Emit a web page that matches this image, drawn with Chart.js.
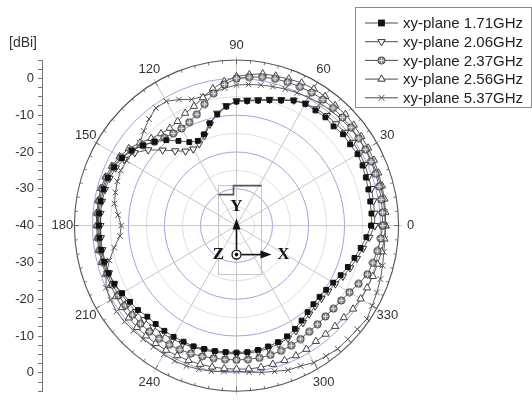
<!DOCTYPE html>
<html>
<head>
<meta charset="utf-8">
<script src="https://cdn.jsdelivr.net/npm/chart.js@4.4.1/dist/chart.umd.min.js"></script>
<style>
  html, body { margin: 0; padding: 0; background: #fff; }
  #wrap { position: relative; width: 532px; height: 403px; }
</style>
</head>
<body>
<div id="wrap"><canvas id="polar"></canvas></div>
<script>
// xy-plane patterns, gain in dBi every 5 degrees (0 = +x, counter-clockwise)
const ANGLES = [0, 5, 10, 15, 20, 25, 30, 35, 40, 45, 50, 55, 60, 65, 70, 75, 80, 85,
  90, 95, 100, 105, 110, 115, 120, 125, 130, 135, 140, 145, 150, 155, 160, 165, 170, 175,
  180, 185, 190, 195, 200, 205, 210, 215, 220, 225, 230, 235, 240, 245, 250, 255, 260, 265,
  270, 275, 280, 285, 290, 295, 300, 305, 310, 315, 320, 325, 330, 335, 340, 345, 350, 355];

const G_171 = [-2.6, -2.4, -2.3, -2.1, -1.8, -1.4, -1.2, -1.5, -1.4, -1.9, -1.6, -1.8, -1.8, -2.5, -3.8, -4.7, -5.5, -6.0,
  -6.3, -7.5, -9.3, -11.2, -13.6, -14.6, -13.8, -11.9, -9.7, -7.8, -6.1, -4.5, -3.3, -2.5, -2.0, -1.8, -1.7, -1.7,
  -1.8, -1.8, -1.9, -2.0, -2.2, -2.6, -3.3, -3.9, -4.3, -5.0, -5.1, -5.1, -5.1, -5.2, -5.1, -5.3, -5.4, -5.5,
  -5.5, -5.5, -5.7, -6.0, -6.3, -6.8, -7.6, -8.5, -9.3, -9.8, -9.9, -9.6, -9.0, -8.1, -7.1, -6.1, -5.0, -3.8];
const G_206 = [-1.6, -1.5, -1.4, -1.2, -1.0, -0.7, -0.5, -0.6, -0.6, -0.9, -1.0, -1.3, -1.6, -2.4, -3.6, -4.5, -5.3, -5.8,
  -6.1, -7.3, -9.0, -11.5, -14.0, -15.5, -16.0, -15.3, -13.5, -11.0, -8.0, -5.5, -4.0, -3.0, -2.5, -2.2, -2.1, -2.1,
  -2.2, -2.2, -2.2, -2.2, -2.3, -2.5, -3.0, -3.3, -3.6, -3.8, -4.0, -4.2, -4.4, -4.6, -4.8, -5.0, -5.1, -5.2,
  -5.2, -5.2, -5.3, -5.5, -5.8, -6.2, -7.0, -7.8, -8.6, -9.1, -9.2, -8.9, -8.3, -7.4, -6.4, -5.4, -4.3, -3.0];
const G_237 = [0.6, 0.7, 0.8, 1.0, 1.1, 1.2, 1.3, 1.4, 1.5, 1.6, 1.7, 1.8, 1.8, 1.6, 1.5, 1.3, 1.0, 0.5,
  0.0, -1.5, -3.5, -5.8, -7.8, -9.0, -9.5, -9.4, -8.8, -7.8, -6.0, -4.3, -3.0, -2.2, -1.7, -1.4, -1.3, -1.4,
  -1.5, -1.5, -1.5, -1.6, -1.8, -2.0, -2.2, -2.3, -2.3, -2.3, -2.4, -2.5, -2.6, -2.8, -3.0, -3.2, -3.4, -3.5,
  -3.5, -3.5, -3.5, -3.6, -3.8, -4.0, -4.4, -4.8, -5.0, -5.1, -4.9, -4.5, -3.8, -2.6, -1.3, -0.8, -0.3, 0.2];
const G_256 = [1.4, 1.5, 1.7, 1.8, 1.9, 2.1, 2.2, 2.3, 2.5, 2.8, 2.6, 2.9, 2.9, 2.8, 2.4, 2.1, 1.9, 1.2,
  0.5, -0.7, -2.2, -4.0, -5.5, -6.3, -7.3, -7.7, -7.4, -6.5, -5.0, -3.5, -2.5, -1.8, -1.3, -1.0, -1.0, -1.1,
  -1.2, -1.2, -1.2, -1.3, -1.4, -1.5, -1.4, -1.2, -1.0, -0.9, -0.9, -0.9, -0.9, -1.0, -1.0, -1.0, -1.0, -1.0,
  -1.0, -0.9, -0.9, -1.0, -1.0, -1.0, -1.2, -1.6, -1.5, -1.3, -1.1, -0.5, -0.2, 0.0, 0.3, 0.5, 0.9, 1.2];
const G_537 = [1.3, 1.3, 1.4, 1.5, 1.5, 1.5, 1.5, 1.3, 1.2, 1.0, 0.8, 0.5, 0.2, -0.2, -0.5, -0.9, -1.2, -1.5,
  -1.8, -2.5, -3.3, -3.7, -3.5, -2.2, -1.0, -1.0, -2.2, -3.6, -5.0, -5.0, -4.8, -4.5, -4.8, -5.2, -5.6, -7.0,
  -8.0, -7.5, -5.5, -3.5, -1.5, 0.0, 0.4, 0.7, 0.6, 0.4, 0.3, 0.2, 0.4, 0.6, 0.6, 0.4, 0.2, -0.2,
  -0.5, 0.0, 0.5, 1.0, 1.8, 2.1, 3.0, 3.3, 3.7, 3.7, 3.8, 4.2, 3.5, 3.0, 2.5, 2.0, 1.5, 1.4];

const SERIES_NAMES = ['xy-plane 1.71GHz', 'xy-plane 2.06GHz', 'xy-plane 2.37GHz', 'xy-plane 2.56GHz', 'xy-plane 5.37GHz'];
// 270 sits below the picture edge in the original, so it is left out
const ANGLE_LABELS = ['0', '30', '60', '90', '120', '150', '180', '210', '240', '300', '330'];
const R_MIN = -40;   // dBi at the centre
const R_MAX = 5;     // dBi at the outer ring

const FONT = '"Liberation Sans", Arial, sans-serif';

// polar (deg, dBi) -> plane, radius counted from the centre value
function toXY(values) {
  const pts = ANGLES.map((a, i) => {
    const r = values[i] - R_MIN, t = a * Math.PI / 180;
    return { x: r * Math.cos(t), y: r * Math.sin(t) };
  });
  pts.push({ ...pts[0] }); // close the loop
  return pts;
}

// circle with cross marker (2.37GHz)
function circlePlus() {
  const c = document.createElement('canvas');
  c.width = c.height = 9;
  const g = c.getContext('2d');
  g.beginPath(); g.arc(4.5, 4.5, 3.6, 0, 2 * Math.PI);
  g.fillStyle = '#929292'; g.fill();
  g.strokeStyle = '#3c3c3c'; g.lineWidth = 1; g.stroke();
  g.beginPath(); g.moveTo(4.5, 1.8); g.lineTo(4.5, 7.2); g.moveTo(1.8, 4.5); g.lineTo(7.2, 4.5);
  g.strokeStyle = '#dcdcdc'; g.stroke();
  return c;
}
const CIRC_PLUS = circlePlus();

const LINE = '#4a4a4a';
const base = { showLine: true, borderColor: LINE, borderWidth: 0.9, pointBorderWidth: 1, tension: 0 };
const datasets = [
  { ...base, label: SERIES_NAMES[0], data: toXY(G_171), pointStyle: 'rect', pointRadius: 3.4,
    pointBackgroundColor: '#111', pointBorderColor: '#111' },
  { ...base, label: SERIES_NAMES[1], data: toXY(G_206), pointStyle: 'triangle', rotation: 180, pointRadius: 4.2,
    pointBackgroundColor: '#fff', pointBorderColor: '#333' },
  { ...base, label: SERIES_NAMES[2], data: toXY(G_237), pointStyle: CIRC_PLUS, pointRadius: 4,
    pointBackgroundColor: '#999', pointBorderColor: '#333' },
  { ...base, label: SERIES_NAMES[3], data: toXY(G_256), pointStyle: 'triangle', pointRadius: 4.2,
    pointBackgroundColor: '#fff', pointBorderColor: '#444' },
  { ...base, label: SERIES_NAMES[4], data: toXY(G_537), pointStyle: 'crossRot', pointRadius: 4,
    pointBackgroundColor: '#666', pointBorderColor: '#555' },
];

// ── polar grid, antenna sketch ─────────────────────────
const polarGrid = {
  id: 'polarGrid',
  beforeDatasetsDraw(chart) {
    const { ctx, scales: { x, y } } = chart;
    const cx = x.getPixelForValue(0), cy = y.getPixelForValue(0);
    const rx = v => x.getPixelForValue(v) - cx, ry = v => cy - y.getPixelForValue(v);
    const outer = R_MAX - R_MIN;
    ctx.save();
    // rings
    for (let v = 5; v < outer; v += 5) {
      ctx.beginPath();
      ctx.ellipse(cx, cy, rx(v), ry(v), 0, 0, 2 * Math.PI);
      ctx.strokeStyle = v % 10 === 0 ? '#a3a3dc' : '#dedede';
      ctx.lineWidth = 1;
      ctx.stroke();
    }
    // spokes
    ctx.strokeStyle = '#c6c6c6';
    for (let a = 0; a < 360; a += 30) {
      const t = a * Math.PI / 180;
      ctx.beginPath();
      ctx.moveTo(cx, cy);
      ctx.lineTo(cx + rx(outer + 1) * Math.cos(t), cy - ry(outer + 1) * Math.sin(t));
      ctx.stroke();
    }
    // outer ring + ticks
    ctx.beginPath();
    ctx.ellipse(cx, cy, rx(outer), ry(outer), 0, 0, 2 * Math.PI);
    ctx.strokeStyle = '#555'; ctx.lineWidth = 1.1; ctx.stroke();
    ctx.lineWidth = 0.8;
    for (let a = 0; a < 360; a += 5) {
      const t = a * Math.PI / 180, c = Math.cos(t), s = Math.sin(t);
      const r0 = outer - (a % 30 === 0 ? 1.2 : 0.8);
      ctx.beginPath();
      ctx.moveTo(cx + rx(r0) * c, cy - ry(r0) * s);
      ctx.lineTo(cx + rx(outer) * c, cy - ry(outer) * s);
      ctx.stroke();
    }

    // antenna sketch and coordinate axes in the middle
    ctx.strokeStyle = '#c4c4c4'; ctx.lineWidth = 1;
    ctx.strokeRect(cx - 18, cy - 40, 43, 89);
    ctx.strokeStyle = '#555'; ctx.lineWidth = 1.6;
    ctx.beginPath();
    ctx.moveTo(cx - 18, cy - 31); ctx.lineTo(cx - 3, cy - 31); ctx.lineTo(cx - 3, cy - 40); ctx.lineTo(cx + 25, cy - 40);
    ctx.stroke();
    ctx.fillStyle = '#111'; ctx.strokeStyle = '#111'; ctx.lineWidth = 1.6;
    const oy = cy + 29;
    ctx.beginPath(); ctx.moveTo(cx, oy - 5); ctx.lineTo(cx, cy - 2); ctx.stroke();
    ctx.beginPath(); ctx.moveTo(cx, cy - 7); ctx.lineTo(cx - 4, cy + 4); ctx.lineTo(cx + 4, cy + 4); ctx.closePath(); ctx.fill();
    ctx.beginPath(); ctx.moveTo(cx + 5, oy); ctx.lineTo(cx + 28, oy); ctx.stroke();
    ctx.beginPath(); ctx.moveTo(cx + 35, oy); ctx.lineTo(cx + 24, oy - 4); ctx.lineTo(cx + 24, oy + 4); ctx.closePath(); ctx.fill();
    ctx.lineWidth = 1.3;
    ctx.beginPath(); ctx.arc(cx, oy, 4.5, 0, 2 * Math.PI); ctx.stroke();
    ctx.beginPath(); ctx.arc(cx, oy, 1.8, 0, 2 * Math.PI); ctx.fill();
    ctx.font = 'bold 17px "Liberation Serif", "DejaVu Serif", serif';
    ctx.textAlign = 'center'; ctx.textBaseline = 'middle';
    ctx.fillText('Y', cx, cy - 19);
    ctx.fillText('Z', cx - 18, oy);
    ctx.fillText('X', cx + 47, oy);
    ctx.restore();
  },
  afterDraw(chart) {
    const { ctx, scales: { x, y } } = chart;
    const cx = x.getPixelForValue(0), cy = y.getPixelForValue(0);
    const outer = R_MAX - R_MIN;
    const rX = x.getPixelForValue(outer) - cx + 12, rY = cy - y.getPixelForValue(outer) + 15;
    ctx.save();
    ctx.fillStyle = '#333';
    ctx.font = '13px ' + FONT;
    ctx.textAlign = 'center'; ctx.textBaseline = 'middle';
    ANGLE_LABELS.forEach(lbl => {
      const t = Number(lbl) * Math.PI / 180;
      ctx.fillText(lbl, cx + rX * Math.cos(t), cy - rY * Math.sin(t));
    });
    ctx.textAlign = 'left';
    ctx.font = '14px ' + FONT;
    ctx.fillText('[dBi]', 9, 43);

    // legend
    ctx.strokeStyle = '#8a8a8a'; ctx.lineWidth = 1;
    ctx.strokeRect(355.5, 7.5, 176, 100);
    ctx.font = '15px ' + FONT;
    ctx.fillStyle = '#222';
    datasets.forEach((d, i) => {
      const ly = 23 + i * 18.7, mx = 381.5;
      ctx.strokeStyle = LINE; ctx.lineWidth = 1;
      ctx.beginPath(); ctx.moveTo(365, ly); ctx.lineTo(398, ly); ctx.stroke();
      drawMarker(ctx, i, mx, ly);
      ctx.fillStyle = '#222';
      ctx.fillText(d.label, 403, ly + 1);
    });
    ctx.restore();
  },
};

function drawMarker(ctx, i, x, y) {
  ctx.save();
  ctx.lineWidth = 1;
  if (i === 0) {
    ctx.fillStyle = '#111'; ctx.fillRect(x - 3.4, y - 3.4, 6.8, 6.8);
  } else if (i === 1 || i === 3) {
    const s = i === 1 ? -1 : 1, r = 4.2;
    ctx.beginPath();
    ctx.moveTo(x, y - s * r);
    ctx.lineTo(x - r * 0.866, y + s * r * 0.5);
    ctx.lineTo(x + r * 0.866, y + s * r * 0.5);
    ctx.closePath();
    ctx.fillStyle = '#fff'; ctx.fill(); ctx.strokeStyle = '#333'; ctx.stroke();
  } else if (i === 2) {
    ctx.drawImage(CIRC_PLUS, x - 4.5, y - 4.5);
  } else {
    ctx.strokeStyle = '#555';
    ctx.beginPath();
    ctx.moveTo(x - 3, y - 3); ctx.lineTo(x + 3, y + 3);
    ctx.moveTo(x + 3, y - 3); ctx.lineTo(x - 3, y + 3);
    ctx.stroke();
  }
  ctx.restore();
}

new Chart(document.getElementById('polar'), {
  type: 'scatter',
  data: { datasets },
  options: {
    responsive: true,
    maintainAspectRatio: false,
    animation: false,
    layout: { padding: { left: 0, right: 101, top: 60, bottom: 8 } },
    plugins: { legend: { display: false }, tooltip: { enabled: false } },
    scales: {
      x: { type: 'linear', display: false, min: -54, max: 54 },
      y: {
        type: 'linear',
        min: -(R_MAX - R_MIN),
        max: R_MAX - R_MIN,
        afterFit: s => { s.width = 42; },
        border: { display: true, color: '#777', width: 1 },
        grid: { drawOnChartArea: false, drawTicks: true, tickLength: 4, color: '#777' },
        ticks: {
          stepSize: 2.5,
          autoSkip: false,
          padding: 4,
          color: '#333',
          font: { family: FONT, size: 13 },
          callback: v => {
            const a = Math.round(Math.abs(v) * 10) / 10;
            return a % 10 === 0 ? String(a + R_MIN) : '';
          },
        },
      },
    },
  },
  plugins: [polarGrid],
});
</script>
</body>
</html>
